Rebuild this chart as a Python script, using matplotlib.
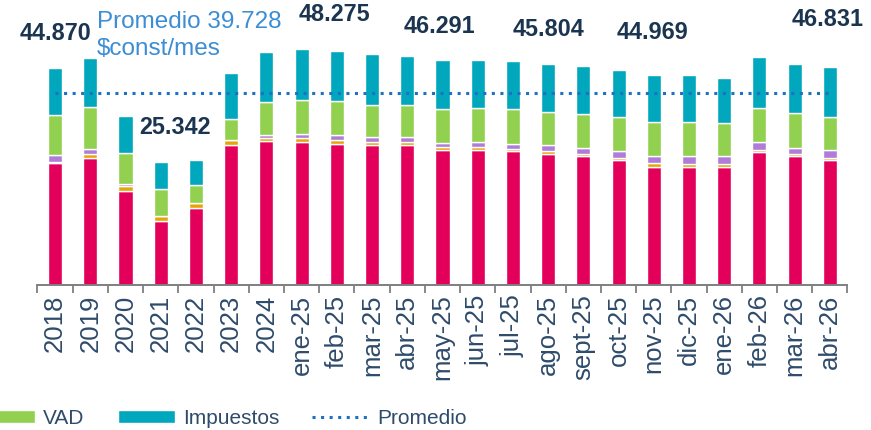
import matplotlib
matplotlib.use("Agg")
import matplotlib.pyplot as plt
import numpy as np

categories = ["2018", "2019", "2020", "2021", "2022", "2023", "2024",
              "ene-25", "feb-25", "mar-25", "abr-25", "may-25", "jun-25",
              "jul-25", "ago-25", "sept-25", "oct-25", "nov-25", "dic-25",
              "ene-26", "feb-26", "mar-26", "abr-26"]

# values in thousands of $const/mes
energia = [25.10, 26.25, 19.42, 13.21, 15.90, 28.94, 29.71,
           29.44, 29.15, 28.88, 28.88, 27.78, 27.78,
           27.58, 27.02, 26.54, 25.71, 24.39, 24.39,
           24.39, 27.37, 26.54, 25.71]
otros1 = [0.30, 0.90, 0.97, 1.04, 0.97, 0.97, 0.62,
          0.83, 0.83, 0.62, 0.62, 0.62, 0.62,
          0.54, 0.62, 0.54, 0.48, 0.83, 0.56,
          0.56, 0.48, 0.48, 0.48]
otros2 = [1.35, 0.89, 0.41, 0.05, 0.05, 0.10, 0.62,
          0.95, 0.97, 1.04, 0.97, 0.95, 1.04,
          1.04, 1.24, 1.24, 1.39, 1.32, 1.59,
          1.59, 1.59, 1.30, 1.66]
vad = [8.43, 8.76, 6.48, 5.59, 3.73, 4.35, 6.77,
       6.98, 6.98, 6.63, 6.69, 6.98, 7.10,
       7.18, 6.89, 6.98, 7.16, 7.16, 7.16,
       6.89, 7.10, 7.18, 6.89]
impuestos = [9.69, 10.23, 7.54, 5.47, 5.18, 9.38, 10.35,
             10.50, 10.48, 10.50, 10.20, 10.20, 10.00,
             9.88, 10.02, 9.88, 9.67, 9.67, 9.67,
             9.38, 10.50, 10.29, 10.23]

promedio = 39.728
label_values = ["44.870", "25.342", "48.275", "46.291", "45.804", "44.969", "46.831"]

# annotation placement (category position, height) for value labels
label_pos = [(0.0, 51.9), (3.41, 32.6), (7.92, 55.9), (10.9, 53.5),
             (14.0, 52.9), (16.97, 52.3), (21.94, 55.0)]

col_energia = "#E3005A"
col_otros1 = "#E5A50A"
col_otros2 = "#B07CD9"
col_vad = "#92D050"
col_imp = "#00A7BD"

plt.rcParams["font.family"] = ["Liberation Sans", "DejaVu Sans"]

fig = plt.figure(figsize=(8.71, 4.30), dpi=100)
ax = fig.add_axes([0.043, 0.338, 0.930, 0.5616])

x = np.arange(len(categories))
w = 0.40
bottom = np.zeros(len(categories))
series = [(energia, col_energia, "Energía"), (otros1, col_otros1, "Otros"),
          (otros2, col_otros2, "Otros 2"), (vad, col_vad, "VAD"),
          (impuestos, col_imp, "Impuestos")]
handles = {}
for vals, col, name in series:
    v = np.array(vals)
    b = ax.bar(x, v, w, bottom=bottom, color=col, edgecolor="white",
               linewidth=1.0, label=name, zorder=2)
    handles[name] = b
    bottom += v

line, = ax.plot(x, [promedio] * len(x), linestyle=(0, (1, 1.8)), lw=2.2,
                color="#1F70C1", zorder=3, label="Promedio")

ax.set_xlim(-0.5, len(categories) - 0.5)
ax.set_ylim(0, 50)

for s in ["left", "right", "top"]:
    ax.spines[s].set_visible(False)
ax.spines["bottom"].set_color("#7F7F7F")
ax.spines["bottom"].set_linewidth(1.4)
ax.set_yticks([])

ax.set_xticks(x)
ax.set_xticklabels(categories, rotation=90, fontsize=18.5, color="#2F4B6B")
ax.tick_params(axis="x", which="major", length=0, pad=7)
ax.set_xticks(np.arange(-0.5, len(categories)), minor=True)
ax.tick_params(axis="x", which="minor", length=5.5, width=1.3, color="#7F7F7F")

for txt, (px, py) in zip(label_values, label_pos):
    ax.text(px, py, txt, ha="center", va="center", fontsize=16.8,
            fontweight="bold", color="#1B3550", clip_on=False, zorder=5)

prom_txt = "Promedio " + f"{promedio:.3f}" + "\n\\$const/mes"
fig.text(97 / 871, 1 - 11 / 430, prom_txt, ha="left", va="top",
         fontsize=17.5, color="#3C8DD4", linespacing=1.3)

fig.legend([handles["VAD"], handles["Impuestos"], line],
           ["VAD", "Impuestos", "Promedio"],
           loc="center left", bbox_to_anchor=(-22 / 871, 12 / 430),
           ncol=3, frameon=False, fontsize=15, handlelength=2.74,
           handleheight=0.58, handletextpad=0.38, columnspacing=1.6,
           borderpad=0, borderaxespad=0, labelcolor="#2F4B6B")

fig.savefig("out.png", dpi=100)
